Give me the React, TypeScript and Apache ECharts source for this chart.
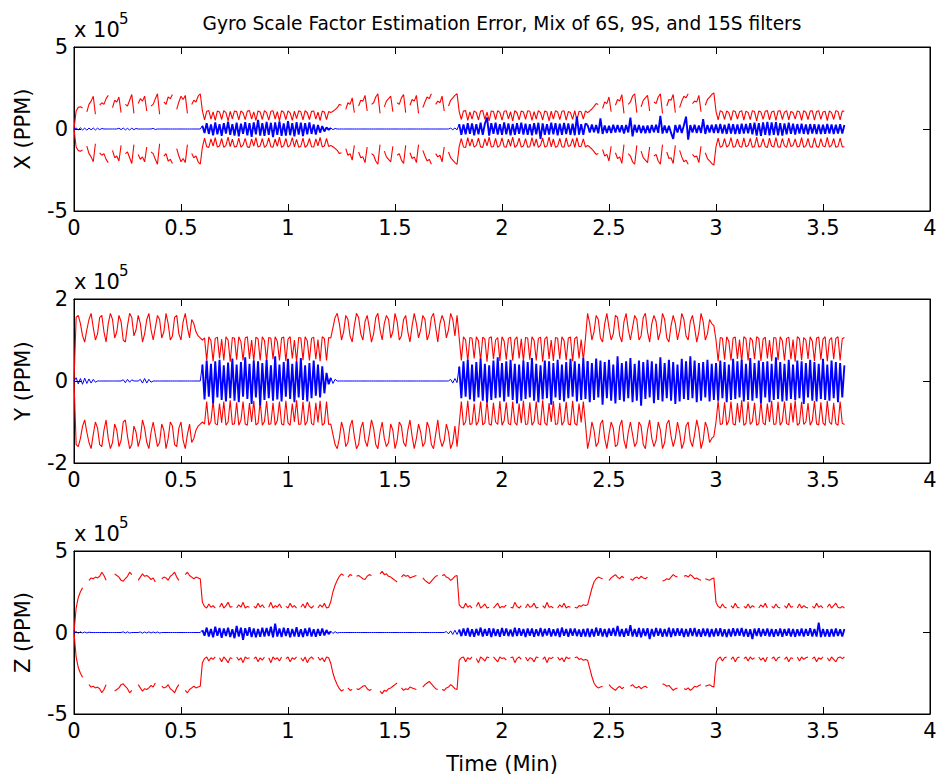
import React, { useEffect, useRef } from "react";
import * as echarts from "echarts";

// Gap marker for the envelope traces
const _ = null;

// Sampling of the traces (minutes per sample) and start time of each 0.6-min filter segment
const DT = 0.01;
const SEGMENT_STARTS = [0, 0.6, 1.2, 1.8, 2.4, 3.0];
// Segments in which the estimation error stays near zero (drawn with a thin line)
const QUIET_SEGMENTS = [0, 2];

const TITLE = "Gyro Scale Factor Estimation Error, Mix of 6S, 9S, and 15S filters";
const Y_NAMES = ["X (PPM)", "Y (PPM)", "Z (PPM)"];
const Y_LIMITS = [500000, 200000, 500000];
const X_NAME = "Time (Min)";

// ---- X axis: error-bound envelope (upper bound, 1e3 PPM; lower bound is its negative) ----
const X_SIGMA = [
  [0, 110, 132, 136, 128, _, 105, 150, 170, 200, 90, _, 145, 160, 150, 185, 205, _, 130, 175, 165, 195, 100, _, 150, 140, 175, 210, 95, _,
   155, 185, 170, 200, 110, _, 140, 150, 185, 215, 90, _, 165, 150, 195, 185, 210, _, 120, 165, 200, 180, 205, 95, _, 150, 175, 165, 200, 215],
  [110, 55, 108, 112, 60, 105, 52, 110, 104, 58, 112, 100, 50, 108, 62, 110, 106, 55, 111, 98, 57, 109, 112, 60, 104, 52, 110, 103, 58, 112,
   100, 54, 108, 111, 61, 106, 50, 112, 102, 57, 110, 98, 53, 109, 63, 111, 105, 56, 112, 99, 58, 108, 110, 60, 103, 51, 109, 104, 57, 106],
  [100, 108, 118, 130, 150, 145, _, 120, 160, 150, 190, 100, _, 140, 175, 170, 205, 110, _, 150, 160, 195, 215, 95, _, 135, 170, 185, 200, 105,
   _, 160, 150, 190, 210, 100, _, 145, 180, 170, 205, 95, _, 130, 165, 195, 185, 215, _, 150, 170, 160, 200, 110, _, 140, 175, 190, 205, 215],
  [106, 58, 110, 112, 52, 104, 60, 111, 100, 55, 109, 112, 59, 103, 50, 110, 107, 57, 112, 101, 54, 108, 111, 62, 105, 50, 112, 99, 56, 110,
   104, 59, 111, 108, 53, 106, 61, 112, 100, 55, 110, 103, 50, 109, 60, 112, 104, 57, 108, 111, 54, 106, 100, 59, 112, 52, 108, 105, 60, 110],
  [100, 110, 122, 138, 155, 150, _, 125, 165, 155, 195, 105, _, 145, 180, 170, 210, 95, _, 150, 165, 200, 215, 100, _, 135, 175, 190, 205, 110,
   _, 165, 155, 195, 215, 95, _, 140, 180, 175, 210, 100, _, 130, 170, 200, 190, 215, _, 155, 170, 165, 205, 105, _, 145, 180, 195, 210, 220],
  [108, 55, 112, 104, 58, 110, 100, 52, 111, 107, 60, 105, 112, 54, 109, 101, 57, 112, 106, 50, 110, 103, 59, 108, 112, 56, 104, 110, 52, 109,
   111, 58, 103, 112, 55, 107, 100, 60, 110, 105, 53, 112, 102, 57, 109, 111, 54, 106, 112, 59, 104, 108, 51, 110, 100, 58, 112, 106, 55, 109, 108],
];

// ---- X axis: estimation error (1e3 PPM) ----
const X_ERROR = [
  [0, 6, -5, 7, -6, 5, -7, 6, -5, 6, -6, 5, -4, 3, 0, 0, 0, 0, 0, 0, 0, 5, -4, 6, -5, 4, -6, 5, -4, 3,
   0, 0, 0, 0, 0, 0, 0, 4, -3, 0, 0, 0, 0, 0, 0, 0, 0, 0, 0, 0, 0, 0, 0, 0, 0, 0, 0, 0, 0, 0],
  [20, -25, 35, -30, 28, -38, 40, -32, 30, -42, 36, -28, 45, -35, 30, -40, 38, -45, 33, -30, 42, -38, 35, -48, 40, -33, 55, -40, 36, -42,
   44, -36, 38, -50, 40, -35, 46, -42, 34, -40, 48, -38, 36, -45, 42, -34, 38, -44, 35, -32, 40, -30, 28, -34, 25, -22, 18, -15, 10, -5],
  [6, -4, 3, 0, 0, 0, 0, 0, 0, 0, 0, 0, 0, 0, 0, 0, 0, 0, 0, 0, 0, 0, 0, 0, 0, 0, 0, 0, 0, 0,
   0, 0, 0, 0, 0, 0, 0, 0, 0, 0, 0, 0, 0, 0, 0, 0, 0, 0, 0, 0, 0, 0, 0, 0, 0, 0, 5, -4, 6, -5],
  [30, -35, 28, -32, 36, -30, 34, -38, 30, -33, 38, -36, 32, 70, -40, 35, -30, 38, -34, 30, -36, 40, -32, 34, -38, 31, -35, 36, -30, 38,
   -34, 32, -36, 30, -38, 35, -32, 38, -60, 34, -36, 30, -34, 38, -32, 36, -38, 33, -35, 37, -31, 34, -36, 32, -38, 75, -34, 30, -36, 33],
  [25, -22, 28, -20, 24, -26, 65, -30, 22, -25, 20, -24, 26, -22, 25, -20, 23, -28, 24, -21, 70, -45, 26, -22, 25, -24, 20, -26, 22, -25,
   24, -20, 26, -23, 80, -28, 22, -25, 20, -24, -60, 25, -22, 26, -24, 23, 75, -65, 24, -22, 26, -25, 22, -24, 60, -30, 24, -22, 26, -25],
  [28, -25, 30, -28, 26, -30, 32, -27, 29, -31, 27, -30, 33, -28, 30, -26, 35, -32, 38, -40, 36, -42, 40, -35, 44, -38, 40, -36, 42, -38,
   36, -40, 34, -32, 38, -30, 32, -34, 30, -28, 32, -30, 28, -32, 30, -27, 29, -31, 28, -30, 26, -29, 30, -27, 28, -30, 26, -28, 29, -27, 25],
];

// ---- Y axis: error-bound envelope (1e3 PPM) ----
const Y_SIGMA = [
  [0, 155, 160, 140, 110, 95, 125, 150, 165, 130, 100, 115, 155, 160, 120, 95, 140, 165, 150, 105, 120, 160, 145, 100, 95, 135, 165, 155, 110, 125,
   160, 140, 95, 115, 150, 165, 125, 100, 130, 160, 150, 105, 120, 165, 140, 100, 110, 155, 160, 115, 100, 145, 165, 130, 105, 150, 140, 120, 110, 105],
  [100, 105, 50, 108, 98, 48, 104, 107, 55, 102, 50, 108, 100, 47, 106, 104, 52, 108, 96, 50, 105, 108, 54, 100, 48, 107, 103, 50, 108, 99,
   49, 106, 104, 53, 108, 97, 50, 105, 107, 48, 102, 108, 55, 100, 47, 106, 105, 51, 108, 98, 50, 104, 107, 53, 101, 48, 108, 103, 50, 106],
  [105, 130, 155, 165, 140, 100, 120, 160, 150, 110, 95, 135, 165, 155, 115, 100, 145, 160, 130, 95, 115, 155, 165, 125, 100, 140, 160, 150, 105, 120,
   165, 145, 100, 110, 150, 160, 120, 95, 135, 165, 140, 105, 125, 160, 150, 100, 115, 155, 165, 130, 95, 140, 160, 145, 105, 125, 165, 150, 110, 160],
  [105, 50, 108, 100, 48, 106, 104, 55, 108, 98, 50, 107, 102, 47, 105, 108, 53, 100, 106, 49, 108, 97, 52, 104, 107, 50, 101, 108, 55, 103,
   48, 106, 105, 52, 108, 99, 50, 104, 107, 47, 102, 108, 54, 100, 49, 106, 104, 53, 108, 98, 51, 105, 107, 48, 103, 108, 55, 101, 50, 104],
  [165, 140, 100, 120, 160, 150, 105, 95, 140, 165, 130, 100, 115, 160, 155, 110, 95, 145, 165, 125, 100, 130, 160, 150, 100, 110, 155, 165, 120, 95,
   140, 160, 145, 100, 120, 165, 150, 105, 95, 135, 160, 140, 100, 125, 165, 150, 110, 100, 145, 160, 130, 95, 120, 165, 145, 100, 115, 150, 140, 135],
  [100, 48, 106, 104, 52, 108, 97, 50, 105, 107, 54, 101, 47, 108, 103, 50, 106, 99, 53, 108, 104, 49, 102, 107, 55, 100, 48, 106, 105, 51,
   108, 98, 50, 104, 107, 53, 101, 47, 108, 103, 51, 106, 100, 54, 108, 97, 49, 105, 107, 52, 102, 108, 48, 100, 106, 53, 104, 108, 50, 103, 106],
];

// ---- Y axis: estimation error (1e3 PPM) ----
const Y_ERROR = [
  [0, 8, -7, 6, -8, 7, -6, 5, -5, 4, -3, 0, 0, 0, 0, 0, 0, 0, 0, 0, 0, 0, 0, 3, -4, 4, -3, 3, 0, 0,
   0, 4, -5, 6, -5, 4, -3, 0, 0, 0, 0, 0, 0, 0, 0, 0, 0, 0, 0, 0, 0, 0, 0, 0, 0, 0, 0, 0, 0, 0],
  [40, -45, 50, -38, 42, -55, 48, -40, 52, -46, 38, -50, 45, -42, 55, -48, 40, -52, 46, -38, 58, -44, 42, -56, 50, -40, 48, -60, 44, -46,
   52, -42, 38, -48, 60, -45, 40, -50, 46, -38, 54, -44, 42, -52, 48, -40, 56, -46, 38, -50, 44, -42, 50, -36, 40, -40, 36, -30, 20, -8],
  [8, -6, 4, 0, 0, 0, 0, 0, 0, 0, 0, 0, 0, 0, 0, 0, 0, 0, 0, 0, 0, 0, 0, 0, 0, 0, 0, 0, 0, 0,
   0, 0, 0, 0, 0, 0, 0, 0, 0, 0, 0, 0, 0, 0, 0, 0, 0, 0, 0, 0, 0, 0, 0, 0, 0, 0, 4, -5, 6, -4],
  [35, -42, 48, -38, 52, -45, 40, -50, 46, -40, 55, -48, 42, -52, 38, -46, 50, -42, 58, -40, 44, -50, 48, -38, 52, -46, 42, -55, 40, -48,
   50, -44, 46, -40, 56, -48, 42, -52, 38, -45, 50, -42, 48, -58, 44, -40, 52, -46, 40, -50, 46, -42, 54, -38, 48, -50, 42, -46, 56, -44],
  [48, -52, 44, -46, 55, -40, 50, -58, 46, -42, 52, -48, 40, -55, 60, -46, 44, -50, 48, -42, 56, -52, 42, -48, 50, -60, 46, -44, 52, -40,
   48, -54, 42, -46, 58, -50, 44, -42, 52, -48, 46, -56, 40, -50, 54, -44, 48, -46, 60, -42, 50, -52, 44, -48, 46, -40, 52, -50, 42, -46],
  [44, -48, 50, -42, 46, -52, 40, -46, 54, -44, 48, -40, 52, -50, 42, -46, 56, -48, 44, -42, 50, -54, 46, -40, 48, -52, 42, -46, 58, -44,
   46, -50, 42, -48, 52, -44, 40, -46, 50, -42, 48, -56, 44, -40, 52, -48, 46, -50, 42, -44, 54, -46, 40, -48, 50, -42, 46, -52, 44, -40, 38],
];

// ---- Z axis: error-bound envelope (1e3 PPM) ----
const Z_SIGMA = [
  [0, 150, 215, 250, 275, _, _, 320, 335, 330, 340, 335, 345, 370, 350, 320, _, _, _, 360, 350, 340, 320, 315, 330, 345, 370, 355, _, _,
   320, 340, 360, 345, 350, 340, 325, 335, 310, _, _, 330, 340, 335, 320, 345, 355, 370, 340, 320, _, _, 355, 370, 350, 340, 330, 340, 335, 330],
  [185, 160, 150, 175, 155, 165, 150, _, 155, 180, 150, 165, 185, 155, 160, _, 150, 170, 155, 185, 150, 160, 155, _, 160, 150, 180, 155, 170, 150,
   _, 155, 185, 150, 165, 155, 175, 150, _, 160, 150, 180, 155, 165, 150, _, 155, 175, 150, 185, 160, 150, 165, _, 150, 170, 155, 180, 150, 155],
  [190, 250, 290, 320, 345, 360, 350, _, 340, 355, 350, _, 345, 350, 340, 330, 325, 345, 355, 350, _, _, _, 360, 375, 355, 360, 345, 340, 330,
   320, 310, _, 340, 355, 345, 350, 335, 340, 345, 350, _, _, 335, 320, 310, 300, 315, 330, 345, 350, _, 350, 355, 340, 335, 320, 330, 345, 350],
  [170, 155, 150, 180, 155, 165, 150, _, 160, 185, 150, 160, 175, 150, 155, _, 150, 165, 180, 150, 160, 155, 170, _, 155, 150, 185, 160, 150, 165,
   _, 150, 175, 155, 160, 180, 150, 155, _, 165, 150, 185, 155, 160, 150, _, 150, 170, 155, 180, 150, 160, 155, _, 155, 150, 165, 160, 170, 165],
  [170, 220, 270, 310, 330, 340, 335, 330, _, _, 320, 335, 345, 355, 340, 330, 345, 335, _, _, 330, 320, 335, 340, 330, 345, 335, 330, 340, _,
   335, _, _, _, _, 315, 320, 330, 325, 340, 355, 345, 340, _, _, 345, 350, 340, 355, 345, 330, 335, 325, 320, _, 330, 325, 320, 330, 335],
  [185, 160, 150, 175, 155, 150, _, 165, 150, 180, 155, 150, _, 160, 150, 175, 150, 165, 155, _, 150, 170, 155, 180, 150, _, 160, 150, 175, 155,
   150, _, 165, 150, 180, 155, 160, _, 150, 175, 150, 165, 155, 150, _, 160, 150, 180, 155, 165, 150, _, 155, 175, 150, 165, 180, 155, 150, 160, 150],
];

// ---- Z axis: estimation error (1e3 PPM) ----
const Z_ERROR = [
  [0, 5, -4, 4, -3, 3, -3, 2, 0, 0, 0, 0, 0, 0, 0, 0, 0, 0, 0, 0, 0, 0, 0, 4, -3, 4, -3, 0, 0, 0,
   0, 3, -4, 3, -3, 4, -3, 3, -2, 3, -3, 0, 0, 0, 0, 0, 0, 0, 0, 0, 0, 0, 0, 0, 0, 0, 0, 0, 0, 0],
  [15, -20, 30, -25, 22, -30, 35, -20, 28, -32, 25, -22, 30, -28, 20, -35, 40, -25, 30, -45, 26, -20, 32, -28, 24, -30, 22, -26, 30, -24,
   28, -22, 35, -30, 55, -25, 24, -28, 30, -22, 26, -30, 22, -24, 32, -26, 20, -28, 25, -22, 30, -24, 20, -26, 22, -20, 25, -18, 15, -10],
  [8, -6, 5, -3, 0, 0, 0, 0, 0, 0, 0, 0, 0, 0, 0, 0, 0, 0, 0, 0, 0, 0, 0, 0, 0, 0, 0, 0, 0, 0,
   0, 0, 0, 0, 0, 0, 0, 0, 0, 0, 0, 0, 0, 0, 0, 0, 0, 0, 0, 0, 0, 0, 0, 0, 6, -8, 10, -12, 14, -12],
  [18, -22, 25, -20, 28, -24, 20, -26, 22, -18, 30, -25, 22, -20, 26, -28, 24, -22, 20, -26, 28, -20, 24, -22, 18, -25, 30, -22, 26, -20,
   22, -28, 25, -20, 24, -26, 20, -22, 28, -24, 22, -18, 26, -25, 20, -22, 24, -28, 30, -20, 22, -26, 25, -20, 24, -22, 18, -26, 22, -24],
  [25, -28, 22, -24, 30, -20, 26, -25, 22, -28, 24, -20, 28, -22, 40, -24, 22, -26, 25, -20, 45, -25, 22, -26, 28, -30, 24, -22, 26, -40,
   22, -25, 28, -20, 24, -26, 22, -24, 30, -28, 25, -22, 26, -20, 24, -28, 22, -25, 26, -22, 28, -24, 20, -26, 24, -22, 25, -28, 22, -24],
  [24, -22, 26, -25, 20, -28, 22, -24, 26, -22, 25, -20, 28, -24, 22, -26, 20, -40, 24, -22, 26, -25, 22, -20, 25, -24, 22, -26, 20, -22,
   24, -26, 22, -20, 25, -24, 22, -26, 20, -22, 24, -25, 22, -20, 26, -24, 22, -25, 60, -28, 22, -24, 20, -26, 22, -24, 25, -22, 20, -24, 22],
];

const SIGMAS = [X_SIGMA, Y_SIGMA, Z_SIGMA];
const ERRORS = [X_ERROR, Y_ERROR, Z_ERROR];

const FONT = "DejaVu Sans";
const RED = "#ff0000";
const BLUE = "#0000ff";
const GRID_LEFT = 74;
const GRID_WIDTH = 856;
const GRID_TOPS = [47, 299, 551];
const GRID_HEIGHTS = [164, 164, 163];

function segPoints(seg: (number | null)[], k: number, sign: number) {
  return seg.map((v, i) => {
    const t = Math.round((SEGMENT_STARTS[k] + i * DT) * 1000) / 1000;
    return [t, v === null ? "-" : sign * v * 1000];
  });
}

function toPoints(segs: (number | null)[][], sign: number) {
  const out: any[] = [];
  segs.forEach((seg, k) => out.push(...segPoints(seg, k, sign)));
  return out;
}

function buildOption() {
  const grid: any[] = [];
  const xAxis: any[] = [];
  const yAxis: any[] = [];
  const series: any[] = [];
  const graphic: any[] = [];
  const black = { color: "#000", width: 1 };
  const labelStyle = { color: "#000", fontSize: 21, fontFamily: FONT };

  graphic.push({
    type: "text",
    x: 502,
    y: 23,
    style: { text: TITLE, fill: "#000", fontSize: 18.6, fontFamily: FONT, align: "center", verticalAlign: "middle" },
  });

  for (let k = 0; k < 3; k++) {
    const lim = Y_LIMITS[k];
    grid.push({
      left: GRID_LEFT,
      top: GRID_TOPS[k],
      width: GRID_WIDTH,
      height: GRID_HEIGHTS[k],
      show: true,
      borderColor: "#000",
      borderWidth: 1,
      backgroundColor: "#fff",
    });
    xAxis.push({
      type: "value",
      gridIndex: k,
      position: "bottom",
      min: 0,
      max: 4,
      interval: 0.5,
      axisLine: { show: true, onZero: false, lineStyle: black },
      axisTick: { show: true, inside: true, length: 7, lineStyle: black },
      axisLabel: { show: true, margin: 6, showMinLabel: true, showMaxLabel: true, ...labelStyle },
      splitLine: { show: false },
      name: k === 2 ? X_NAME : "",
      nameLocation: "middle",
      nameGap: 39,
      nameTextStyle: labelStyle,
    });
    xAxis.push({
      type: "value",
      gridIndex: k,
      position: "top",
      min: 0,
      max: 4,
      interval: 0.5,
      axisLine: { show: true, onZero: false, lineStyle: black },
      axisTick: { show: true, inside: true, length: 7, lineStyle: black },
      axisLabel: { show: false },
      splitLine: { show: false },
    });
    yAxis.push({
      type: "value",
      gridIndex: k,
      position: "left",
      min: -lim,
      max: lim,
      interval: lim,
      axisLine: { show: true, onZero: false, lineStyle: black },
      axisTick: { show: true, inside: true, length: 7, lineStyle: black },
      axisLabel: { show: true, margin: 6, formatter: (v: number) => String(v / 100000), ...labelStyle },
      splitLine: { show: false },
      name: Y_NAMES[k],
      nameLocation: "middle",
      nameGap: 41,
      nameTextStyle: labelStyle,
    });
    yAxis.push({
      type: "value",
      gridIndex: k,
      position: "right",
      min: -lim,
      max: lim,
      interval: lim,
      axisLine: { show: true, onZero: false, lineStyle: black },
      axisTick: { show: true, inside: true, length: 7, lineStyle: black },
      axisLabel: { show: false },
      splitLine: { show: false },
    });

    const common = {
      type: "line",
      xAxisIndex: 2 * k,
      yAxisIndex: 2 * k,
      showSymbol: false,
      symbol: "none",
      connectNulls: false,
      silent: true,
      smooth: false,
    };
    series.push({ ...common, data: toPoints(SIGMAS[k], 1), lineStyle: { color: RED, width: 1.1 }, z: 2 });
    series.push({ ...common, data: toPoints(SIGMAS[k], -1), lineStyle: { color: RED, width: 1.1 }, z: 2 });

    // error trace, one series per filter segment (joined to the next segment's first sample)
    const segs = ERRORS[k];
    segs.forEach((seg, s) => {
      const pts = segPoints(seg, s, 1);
      if (s + 1 < segs.length) pts.push(segPoints(segs[s + 1], s + 1, 1)[0]);
      const quiet = QUIET_SEGMENTS.indexOf(s) >= 0;
      series.push({ ...common, data: pts, lineStyle: { color: BLUE, width: quiet ? 1 : 1.9 }, z: 3 });
    });

    const top = GRID_TOPS[k];
    graphic.push({
      type: "text",
      x: GRID_LEFT,
      y: top - 17,
      style: { text: "x 10", fill: "#000", fontSize: 21, fontFamily: FONT, align: "left", verticalAlign: "middle" },
    });
    graphic.push({
      type: "text",
      x: GRID_LEFT + 45,
      y: top - 28,
      style: { text: "5", fill: "#000", fontSize: 15, fontFamily: FONT, align: "left", verticalAlign: "middle" },
    });
  }

  return {
    animation: false,
    backgroundColor: "#fff",
    grid,
    xAxis,
    yAxis,
    series,
    graphic,
  };
}

export default function App() {
  const ref = useRef<HTMLDivElement>(null);
  useEffect(() => {
    if (!ref.current) return;
    const chart = echarts.init(ref.current, undefined, { renderer: "svg" });
    chart.setOption(buildOption() as any);
    return () => chart.dispose();
  }, []);
  return (
    <div
      ref={ref}
      style={{ position: "fixed", left: 0, top: 0, width: 940, height: 781, background: "#fff" }}
    />
  );
}
